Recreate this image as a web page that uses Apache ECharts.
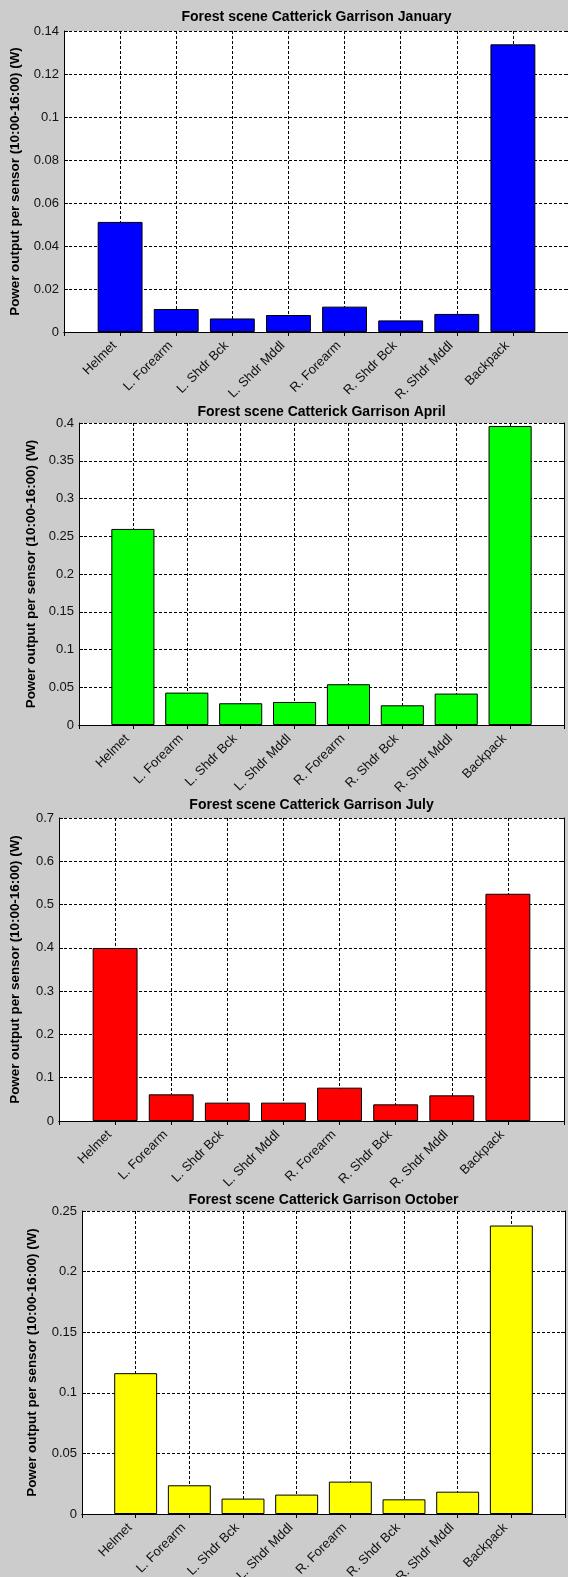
<!DOCTYPE html>
<html>
<head>
<meta charset="utf-8">
<script src="https://cdn.jsdelivr.net/npm/echarts@6/dist/echarts.min.js"></script>
<style>
html,body{margin:0;padding:0;background:#cccccc;}
#c{width:568px;height:1577px;}
</style>
</head>
<body>
<div id="c"></div>
<script>
// ---- data ----
const categories = ['Helmet', 'L. Forearm', 'L. Shdr Bck', 'L. Shdr Mddl', 'R. Forearm', 'R. Shdr Bck', 'R. Shdr Mddl', 'Backpack'];
const january = [0.0512, 0.0107, 0.0063, 0.0079, 0.0118, 0.0054, 0.0084, 0.1338];
const april   = [0.2597, 0.0429, 0.0288, 0.0305, 0.0540, 0.0261, 0.0416, 0.3960];
const july    = [0.3997, 0.0616, 0.0424, 0.0424, 0.0770, 0.0385, 0.0593, 0.5250];
const october = [0.1162, 0.0237, 0.0127, 0.0160, 0.0267, 0.0121, 0.0184, 0.2380];
const months = ['January', 'April', 'July', 'October'];
const yMax  = [0.14, 0.4, 0.7, 0.25];
const yStep = [0.02, 0.05, 0.1, 0.05];
const yTitle = 'Power output per sensor (10:00-16:00) (W)';
const titlePrefix = 'Forest scene Catterick Garrison ';

// ---- layout / style ----
const seriesData = [january, april, july, october];
const colors = ['#0000ff', '#00ff00', '#ff0000', '#ffff00'];
const layout = [
  {left: 64, top: 31,   width: 505, height: 301, nameGap: 42, titleY: 17},
  {left: 79, top: 423,  width: 485, height: 302, nameGap: 41, titleY: 412},
  {left: 59, top: 818,  width: 505, height: 303, nameGap: 37, titleY: 805},
  {left: 82, top: 1211, width: 483, height: 303, nameGap: 43, titleY: 1200}
];
const FONT = '"Liberation Sans", Arial, sans-serif';
const padCats = [''].concat(categories, ['']);
const gridLine = {show: true, lineStyle: {color: '#000', width: 1, type: [3, 2]}};
const axisLineStyle = {show: true, lineStyle: {color: '#000', width: 1}};

const option = {
  animation: false,
  backgroundColor: '#cccccc',
  title: [], grid: [], xAxis: [], yAxis: [], series: []
};

layout.forEach((L, i) => {
  option.title.push({
    text: titlePrefix + months[i],
    left: L.left + L.width / 2,
    top: L.titleY,
    textAlign: 'center',
    textVerticalAlign: 'middle',
    padding: 0,
    textStyle: {fontFamily: FONT, fontSize: 14, fontWeight: 'bold', color: '#000'}
  });
  option.grid.push({
    left: L.left, top: L.top, width: L.width, height: L.height,
    containLabel: false, outerBoundsMode: 'none',
    show: true, backgroundColor: '#ffffff', borderWidth: 0
  });
  // bottom x axis
  option.xAxis.push({
    type: 'category', gridIndex: i, position: 'bottom',
    data: padCats, boundaryGap: false,
    axisLine: axisLineStyle,
    axisTick: {show: true, inside: true, length: 4, interval: 0, lineStyle: {color: '#000'}},
    axisLabel: {interval: 0, rotate: 45, margin: 6, padding: [0, 8, 0, 0],
      fontFamily: FONT, fontSize: 13, color: '#111'},
    splitLine: Object.assign({interval: 0}, gridLine)
  });
  // top mirror x axis
  option.xAxis.push({
    type: 'category', gridIndex: i, position: 'top',
    data: padCats, boundaryGap: false,
    axisLine: axisLineStyle,
    axisTick: {show: true, inside: true, length: 4, interval: 0, lineStyle: {color: '#000'}},
    axisLabel: {show: false}, splitLine: {show: false}
  });
  // left y axis
  option.yAxis.push({
    type: 'value', gridIndex: i, position: 'left',
    min: 0, max: yMax[i], interval: yStep[i],
    name: yTitle, nameLocation: 'middle', nameGap: L.nameGap, nameRotate: 90,
    nameTextStyle: {fontFamily: FONT, fontSize: 13.4, fontWeight: 'bold', color: '#000'},
    axisLine: axisLineStyle,
    axisTick: {show: true, inside: true, length: 4, lineStyle: {color: '#000'}},
    axisLabel: {margin: 5, fontFamily: FONT, fontSize: 13, color: '#111'},
    splitLine: gridLine
  });
  // right mirror y axis
  option.yAxis.push({
    type: 'value', gridIndex: i, position: 'right',
    min: 0, max: yMax[i], interval: yStep[i],
    axisLine: axisLineStyle,
    axisTick: {show: true, inside: true, length: 4, lineStyle: {color: '#000'}},
    axisLabel: {show: false}, splitLine: {show: false}
  });
  option.series.push({
    type: 'bar', xAxisIndex: 2 * i, yAxisIndex: 2 * i,
    data: ['-'].concat(seriesData[i], ['-']),
    barWidth: '80%',
    itemStyle: {color: colors[i], borderColor: '#000', borderWidth: 1},
    z: 3
  });
});

const chart = echarts.init(document.getElementById('c'), null, {renderer: 'canvas', width: 568, height: 1577});
chart.setOption(option);
</script>
</body>
</html>
